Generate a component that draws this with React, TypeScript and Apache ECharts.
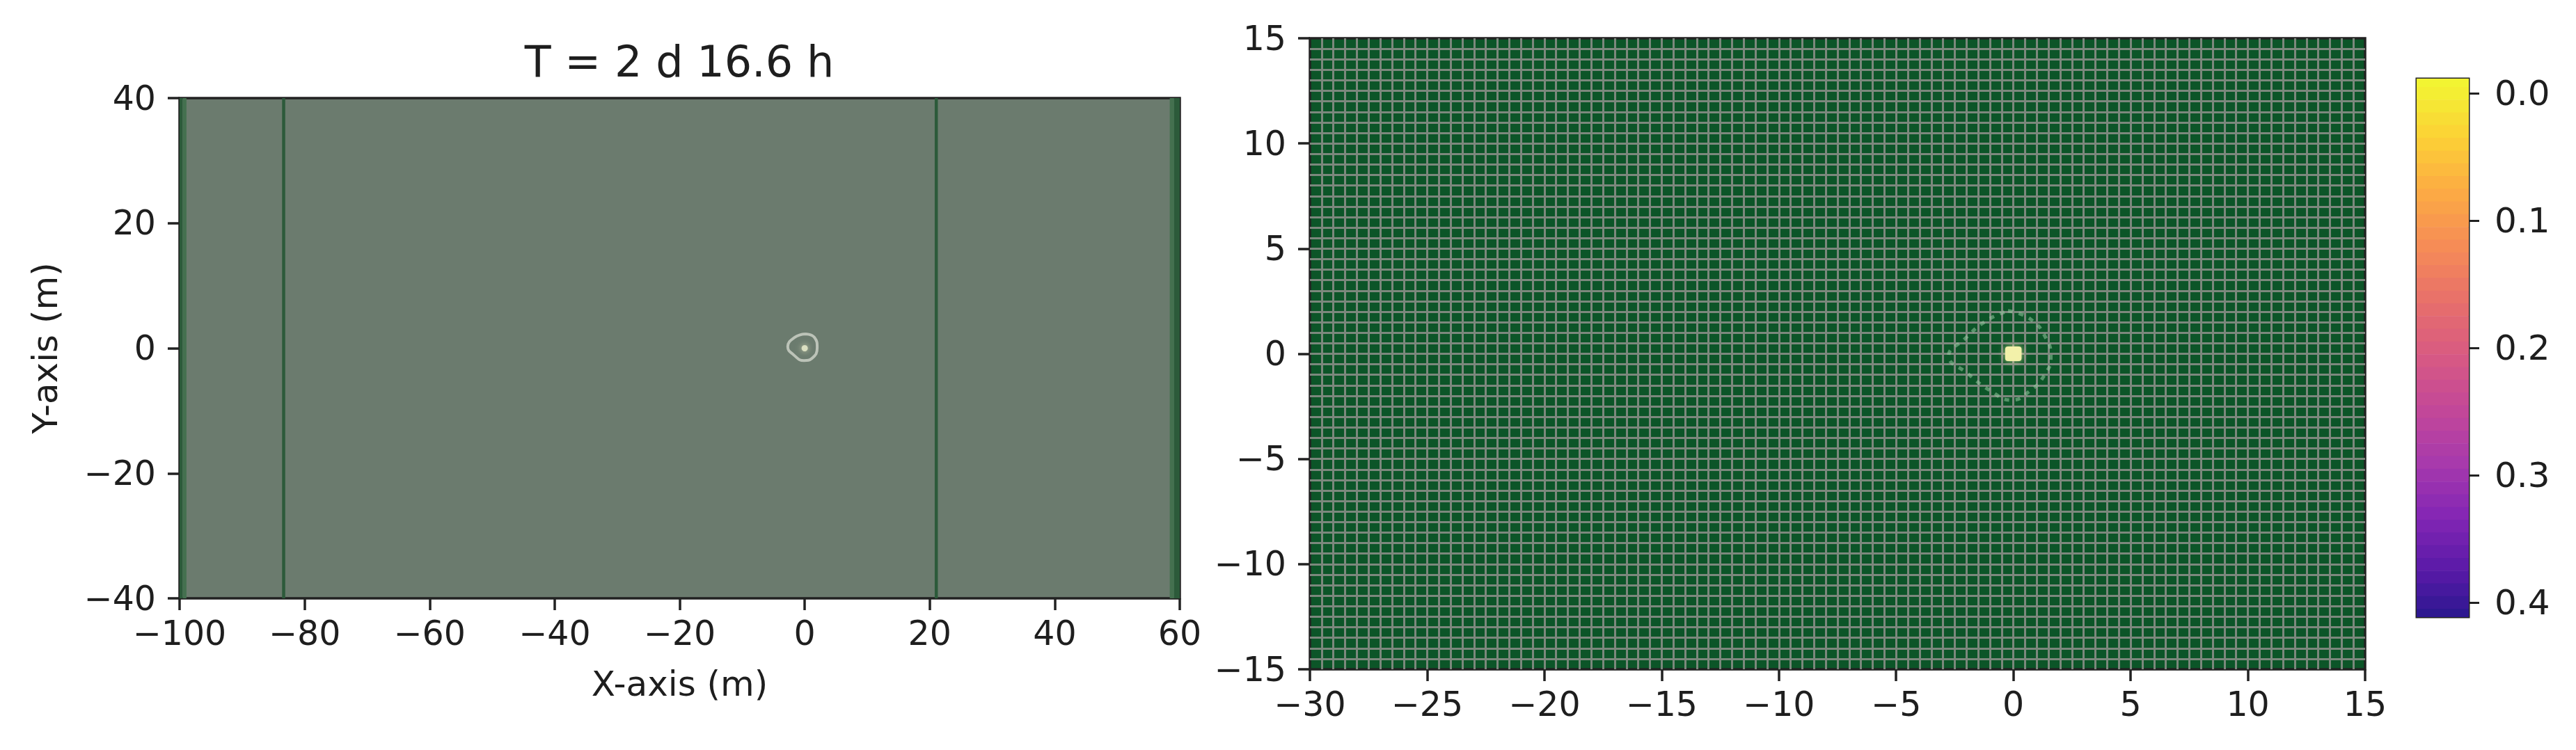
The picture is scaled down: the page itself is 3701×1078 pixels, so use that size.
import React, { useEffect, useRef } from 'react';
import * as echarts from 'echarts';

// ---------- texts ----------
const titleText = 'T = 2 d 16.6 h';
const leftXName = 'X-axis (m)';
const leftYName = 'Y-axis (m)';

// ---------- axes ----------
const leftXRange = [-100, 60];
const leftYRange = [-40, 40];
const leftTickStep = 20;
const rightXRange = [-30, 15];
const rightYRange = [-15, 15];
const rightTickStep = 5;
const colorbarRange = [-0.0115, 0.4115];
const colorbarTicks = [0.0, 0.1, 0.2, 0.3, 0.4];

// ---------- data ----------
// vertical strips of uncovered mesh columns in the overview panel: [x0, x1, kind]
const leftStripes = [
  [-100, -99.5, 2],
  [-99.5, -98.9, 1],
  [-83.6, -83.1, 2],
  [20.8, 21.3, 2],
  [58.4, 59.1, 1],
  [59.1, 60, 2],
];
// contour around the source (overview panel)
const leftContourX = [0.07, 1.56, 2.0, 1.19, -0.11, -1.78, -2.71, -1.6, 0.07];
const leftContourY = [2.29, 1.73, 0.07, -1.6, -1.97, -1.05, 0.24, 1.73, 2.29];
// source location (overview panel)
const leftSource = [[0, 0]];

// contour around the source (zoomed panel)
const rightContourX = [-0.23, 0.71, 1.4, 1.6, 1.31, 0.71, -0.09, -0.97, -1.96, -2.76, -2.06, -1.17, -0.23];
const rightContourY = [2.04, 1.66, 0.72, -0.16, -1.04, -1.76, -2.2, -1.76, -0.93, -0.1, 0.72, 1.56, 2.04];
// source cell (zoomed panel): [x, y, value]
const rightSource = [[0, 0, 0.0]];

// colourbar bands (start value of each band)
const colorbarLevels = [
  -0.015, -0.005, 0.005, 0.015, 0.025, 0.035, 0.045, 0.055, 0.065, 0.075, 0.085,
  0.095, 0.105, 0.115, 0.125, 0.135, 0.145, 0.155, 0.165, 0.175, 0.185, 0.195,
  0.205, 0.215, 0.225, 0.235, 0.245, 0.255, 0.265, 0.275, 0.285, 0.295, 0.305,
  0.315, 0.325, 0.335, 0.345, 0.355, 0.365, 0.375, 0.385, 0.395, 0.405,
];
const CB_STEP = 0.01;

// plasma, reversed (low value = yellow), slightly lightened like the reference
const plasmaReversed = [
  '#f2f432', '#fcd036', '#fcaa44', '#f68c56', '#e8706a', '#d85a82',
  '#c44898', '#a83aac', '#8426b4', '#5a1aa8', '#25168c',
];

// ---------- styles ----------
const FONT = 'DejaVu Sans';
const TEXT = '#1e1e1e';
const SPINE = '#222222';
const MESH = '#7c887d';
const SRC_HALF = 0.35;

const MINUS = '\u2212';
const fmt = (v: number) => (v < 0 ? MINUS + Math.abs(v) : String(v));

const zip = (xs: number[], ys: number[]) => xs.map((x, i) => [x, ys[i]]);

const tickStyle = { show: true, length: 17, lineStyle: { color: SPINE, width: 3.5 } };
const hiddenLine = { show: false, onZero: false };
const labelStyle = (margin: number) => ({
  fontFamily: FONT,
  fontSize: 49,
  color: TEXT,
  margin,
  formatter: (v: number) => fmt(v),
});

export default function App() {
  const ref = useRef<HTMLDivElement>(null);

  useEffect(() => {
    document.body.style.margin = '0';
    if (!ref.current) return;
    const chart = echarts.init(ref.current, undefined, { renderer: 'svg' });

    const option: any = {
      animation: false,
      backgroundColor: '#ffffff',
      graphic: [
        {
          type: 'text',
          x: 976,
          y: 88,
          style: {
            text: titleText,
            fontFamily: FONT,
            fontSize: 62,
            fill: TEXT,
            align: 'center',
            verticalAlign: 'middle',
          },
        },
      ],
      grid: [
        {
          left: 258, top: 141, width: 1437, height: 719,
          show: true, backgroundColor: '#6b7b6e', borderColor: SPINE, borderWidth: 3.5,
          containLabel: false, outerBoundsMode: 'none',
        },
        {
          left: 1882, top: 55, width: 1516, height: 907,
          show: true, backgroundColor: '#0c5528', borderColor: SPINE, borderWidth: 3.5,
          containLabel: false, outerBoundsMode: 'none',
        },
        {
          left: 3472, top: 113, width: 75, height: 774,
          show: true, backgroundColor: 'transparent', borderColor: SPINE, borderWidth: 3,
          containLabel: false, outerBoundsMode: 'none',
        },
      ],
      xAxis: [
        {
          gridIndex: 0, type: 'value',
          min: leftXRange[0], max: leftXRange[1], interval: leftTickStep,
          axisLine: hiddenLine,
          axisTick: tickStyle,
          axisLabel: labelStyle(26),
          splitLine: { show: false },
          name: leftXName, nameLocation: 'middle', nameGap: 98,
          nameTextStyle: { fontFamily: FONT, fontSize: 50, color: TEXT },
        },
        {
          gridIndex: 1, type: 'value',
          min: rightXRange[0], max: rightXRange[1], interval: rightTickStep,
          axisLine: hiddenLine,
          axisTick: tickStyle,
          axisLabel: labelStyle(26),
          splitLine: { show: true, showMinLine: false, showMaxLine: false, lineStyle: { color: MESH, width: 3 } },
          minorTick: { show: false, splitNumber: 10 },
          minorSplitLine: { show: true, lineStyle: { color: MESH, width: 3 } },
        },
        { gridIndex: 2, type: 'value', min: 0, max: 1, show: false, axisLine: hiddenLine },
      ],
      yAxis: [
        {
          gridIndex: 0, type: 'value',
          min: leftYRange[0], max: leftYRange[1], interval: leftTickStep,
          axisLine: hiddenLine,
          axisTick: tickStyle,
          axisLabel: labelStyle(34),
          splitLine: { show: false },
          name: leftYName, nameLocation: 'middle', nameGap: 168,
          nameTextStyle: { fontFamily: FONT, fontSize: 50, color: TEXT },
        },
        {
          gridIndex: 1, type: 'value',
          min: rightYRange[0], max: rightYRange[1], interval: rightTickStep,
          axisLine: hiddenLine,
          axisTick: tickStyle,
          axisLabel: labelStyle(34),
          splitLine: { show: true, showMinLine: false, showMaxLine: false, lineStyle: { color: MESH, width: 3 } },
          minorTick: { show: false, splitNumber: 10 },
          minorSplitLine: { show: true, lineStyle: { color: MESH, width: 3 } },
        },
        {
          gridIndex: 2, type: 'value', position: 'right', inverse: true,
          min: colorbarRange[0], max: colorbarRange[1],
          axisLine: hiddenLine,
          splitLine: { show: false },
          axisTick: { show: true, customValues: colorbarTicks, length: 15, lineStyle: { color: SPINE, width: 3 } },
          axisLabel: {
            customValues: colorbarTicks,
            fontFamily: FONT, fontSize: 50, color: TEXT, margin: 37,
            formatter: (v: number) => v.toFixed(1),
          },
        },
      ],
      visualMap: [
        {
          type: 'continuous', show: false, seriesIndex: 5, dimension: 0,
          min: colorbarRange[0], max: colorbarRange[1],
          inRange: { color: plasmaReversed },
        },
      ],
      series: [
        // 0: uncovered columns in overview panel
        {
          type: 'custom', xAxisIndex: 0, yAxisIndex: 0, clip: true,
          data: leftStripes,
          encode: { x: [0, 1] },
          renderItem: (params: any, api: any) => {
            const a = api.coord([api.value(0), leftYRange[1]]);
            const b = api.coord([api.value(1), leftYRange[0]]);
            const kind = api.value(2);
            return {
              type: 'rect',
              shape: { x: a[0], y: a[1], width: b[0] - a[0], height: b[1] - a[1] },
              style: { fill: kind === 2 ? '#2c5a3a' : '#44704f' },
            };
          },
        },
        // 1: contour overview
        {
          type: 'line', xAxisIndex: 0, yAxisIndex: 0,
          data: zip(leftContourX, leftContourY),
          smooth: 0.5, showSymbol: false,
          lineStyle: { color: '#bcc3b8', width: 4 },
        },
        // 2: source overview
        {
          type: 'scatter', xAxisIndex: 0, yAxisIndex: 0,
          data: leftSource,
          symbol: 'circle', symbolSize: 9,
          itemStyle: { color: '#eef0d0', shadowBlur: 8, shadowColor: 'rgba(240,240,200,0.9)' },
        },
        // 3: contour zoomed (dotted)
        {
          type: 'line', xAxisIndex: 1, yAxisIndex: 1,
          data: zip(rightContourX, rightContourY),
          smooth: 0.5, showSymbol: false,
          lineStyle: { color: 'rgba(150,200,160,0.55)', width: 5, type: [7, 9] },
        },
        // 4: source cell zoomed
        {
          type: 'custom', xAxisIndex: 1, yAxisIndex: 1, clip: true,
          data: rightSource,
          encode: { x: 0, y: 1 },
          renderItem: (params: any, api: any) => {
            const x = api.value(0);
            const y = api.value(1);
            const a = api.coord([x - SRC_HALF, y + SRC_HALF]);
            const b = api.coord([x + SRC_HALF, y - SRC_HALF]);
            return {
              type: 'rect',
              shape: { x: a[0], y: a[1], width: b[0] - a[0], height: b[1] - a[1], r: 4 },
              style: { fill: '#f3f1aa', shadowBlur: 10, shadowColor: 'rgba(245,240,170,0.8)' },
            };
          },
        },
        // 5: colourbar bands
        {
          type: 'custom', xAxisIndex: 2, yAxisIndex: 2, clip: true,
          data: colorbarLevels.map((v) => [v]),
          dimensions: ['level'],
          encode: { y: 0 },
          renderItem: (params: any, api: any) => {
            const v = api.value(0);
            const a = api.coord([0, v]);
            const b = api.coord([1, v + CB_STEP]);
            const top = Math.min(a[1], b[1]);
            return {
              type: 'rect',
              shape: { x: a[0], y: top, width: b[0] - a[0], height: Math.abs(b[1] - a[1]) + 0.6 },
              style: { fill: api.visual('color'), opacity: 1 },
            };
          },
        },
      ],
    };

    chart.setOption(option);
    return () => chart.dispose();
  }, []);

  return <div ref={ref} style={{ width: 3701, height: 1078 }} />;
}
